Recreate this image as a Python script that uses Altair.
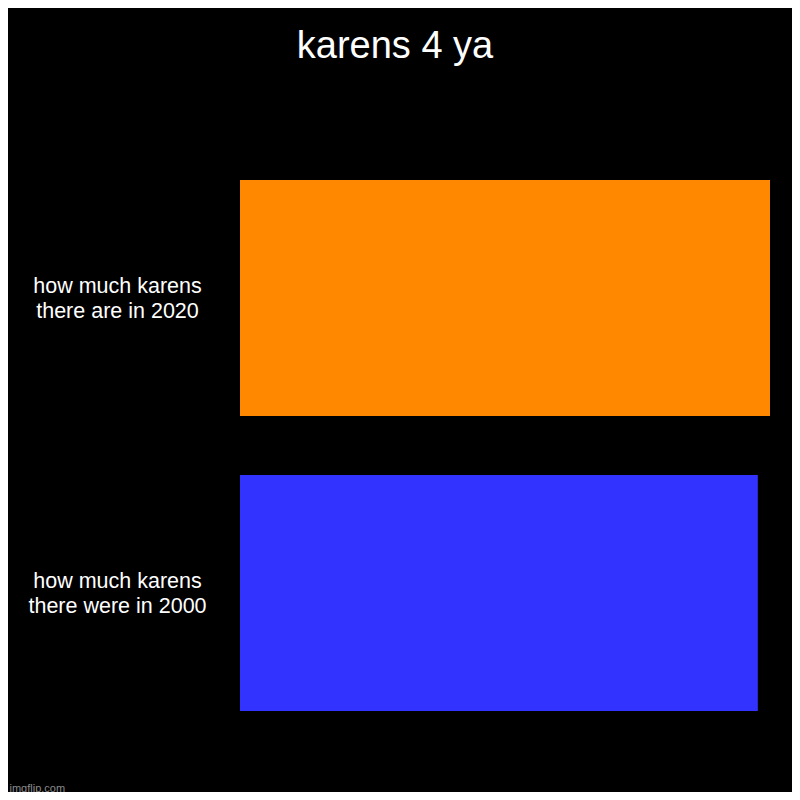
import altair as alt
import pandas as pd

categories = ["how much karens|there are in 2020", "how much karens|there were in 2000"]
values = [100, 97.7]
colors = ["#FF8800", "#3333FF"]
title_text = "karens 4 ya"
watermark = "imgflip.com"

df = pd.DataFrame({"label": categories, "value": values, "color": colors})

FONT = "Liberation Sans"

chart = (
    alt.Chart(df)
    .mark_bar()
    .encode(
        y=alt.Y(
            "label:N",
            sort=categories,
            scale=alt.Scale(paddingInner=0.2, paddingOuter=0.2),
            axis=alt.Axis(
                title=None,
                domain=False,
                ticks=False,
                tickSize=0,
                labelPadding=123,
                labelOffset=-11.5,
                labelAlign="center",
                labelBaseline="middle",
                labelExpr="split(datum.label, '|')",
                labelLineHeight=25,
                labelFontSize=21.5,
                labelFont=FONT,
                labelColor="#ffffff",
                labelLimit=400,
            ),
        ),
        x=alt.X(
            "value:Q",
            scale=alt.Scale(domain=[0, 100], nice=False),
            axis=alt.Axis(
                title=watermark,
                domain=False,
                ticks=False,
                labels=False,
                grid=False,
                titleX=-231,
                titleY=21,
                titleAlign="left",
                titleAnchor="start",
                titleBaseline="alphabetic",
                titleFont=FONT,
                titleFontSize=11,
                titleFontWeight="normal",
                titleColor="#8a8a8a",
            ),
        ),
        color=alt.Color("color:N", scale=None),
    )
    .properties(
        width=530,
        height=649,
        padding={"left": 232, "top": 113, "right": 22, "bottom": 22},
        autosize=alt.AutoSizeParams(type="none"),
        title=alt.TitleParams(
            text=title_text,
            font=FONT,
            fontSize=38,
            fontWeight="normal",
            color="#ffffff",
            anchor="middle",
            dx=-110,
            offset=55,
        ),
    )
    .configure(background="#000000")
    .configure_view(stroke=None)
)

chart.save("out.html", embed_options={"renderer": "svg", "actions": False})
